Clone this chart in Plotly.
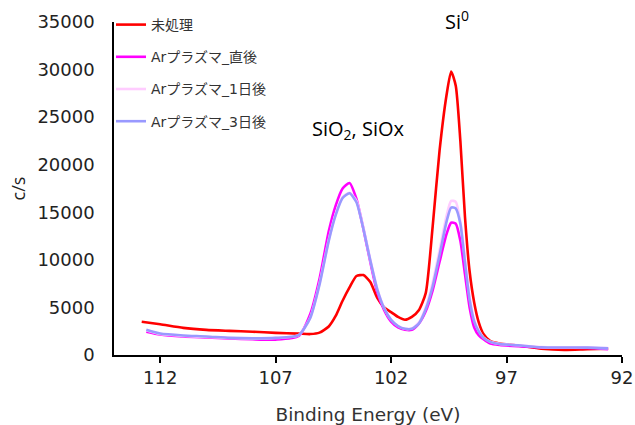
import plotly.graph_objects as go

# Binding energy (eV)
energy_untreated = [112.8, 112.0, 111.0, 110.0, 109.0, 108.0, 107.0, 106.0, 105.5, 105.1, 104.7, 104.4,
                    104.1, 103.8, 103.5, 103.2, 102.9, 102.6, 102.3, 102.0, 101.7, 101.4, 101.1, 100.8,
                    100.5, 100.2, 99.9, 99.6, 99.4, 99.2, 99.0, 98.8, 98.6, 98.4, 98.2, 98.0, 97.7, 97.3,
                    96.5, 95.5, 94.5, 93.5, 92.6]
energy_ar = [112.6] + energy_untreated[1:]

untreated = [3500, 3230, 2850, 2640, 2540, 2450, 2330, 2250, 2200, 2350, 3000, 4100,
             5700, 7100, 8300, 8400, 7670, 6000, 5000, 4500, 4000, 3700, 4000, 4700,
             6500, 13500, 21500, 27300, 29800, 28300, 22500, 14500, 8800, 5500, 3400, 2200, 1450, 1200,
             1000, 650, 520, 600, 650]

ar_0d = [2450, 2150, 1950, 1850, 1750, 1650, 1620, 2000, 4300, 8000, 13000, 15700,
         17500, 18080, 16400, 13260, 9770, 6600, 4700, 3500, 2900, 2650, 2650, 3300,
         4600, 6800, 9800, 12700, 13900, 13800, 12000, 8500, 5000, 2900, 2050, 1650, 1200, 1050,
         920, 800, 760, 740, 620]

ar_1d = [2600, 2200, 2000, 1900, 1780, 1720, 1780, 2080, 3950, 7500, 12100, 14800,
         16600, 17050, 16200, 13400, 10000, 6950, 4950, 3700, 3050, 2750, 2800, 3400,
         5000, 7600, 11000, 14600, 16200, 16100, 14000, 10100, 6100, 3700, 2550, 1850, 1400, 1170,
         1030, 830, 800, 790, 720]

ar_3d = [2650, 2250, 2050, 1950, 1800, 1750, 1800, 2100, 3900, 7400, 12000, 14700,
         16500, 17000, 16050, 13260, 9940, 6900, 4900, 3700, 3050, 2750, 2750, 3300,
         4800, 7200, 10500, 14000, 15500, 15400, 13800, 9700, 5800, 3500, 2450, 1800, 1380, 1150,
         1020, 820, 790, 780, 700]

series_names = ["未処理", "Arプラズマ_直後", "Arプラズマ_1日後", "Arプラズマ_3日後"]
series_colors = ["#FF0000", "#FF00FF", "#FFCCFF", "#9999FF"]
series_x = [energy_untreated, energy_ar, energy_ar, energy_ar]
series_y = [untreated, ar_0d, ar_1d, ar_3d]

x_ticks = [112, 107, 102, 97, 92]

fig = go.Figure()
for i, (name, color, xs, ys) in enumerate(zip(series_names, series_colors, series_x, series_y)):
    fig.add_trace(go.Scatter(
        x=xs, y=ys, name=name, mode="lines",
        line=dict(color=color, width=2.6, shape="spline", smoothing=0.6),
        legendgroup=f"g{i}",
    ))

base_font = "DejaVu Sans, Verdana, Noto Sans CJK JP"

fig.update_layout(
    width=635, height=425,
    margin=dict(l=114, r=13, t=22, b=70, autoexpand=False),
    paper_bgcolor="white", plot_bgcolor="white",
    font=dict(family=base_font, color="#222222"),
    showlegend=True,
    legend=dict(
        xref="container", yref="container",
        x=111 / 635, xanchor="left", y=1 - 9 / 425, yanchor="top",
        bgcolor="rgba(0,0,0,0)",
        font=dict(family=base_font, size=14, color="#333333"),
        tracegroupgap=11,
    ),
    xaxis=dict(
        range=[114, 92],
        tickvals=x_ticks,
        ticktext=[str(v) for v in x_ticks],
        ticks="outside", ticklen=6, tickwidth=1.5, tickcolor="#000000",
        showline=True, linecolor="#000000", linewidth=1.5,
        showgrid=False, zeroline=False, automargin=False,
        tickfont=dict(family=base_font, size=18, color="#222222"),
        ticklabelstandoff=0,
        title=dict(text="Binding Energy (eV)", standoff=32,
                   font=dict(family=base_font, size=18.5, color="#333333")),
    ),
    yaxis=dict(
        range=[0, 35000], dtick=5000, tickformat="d",
        ticks="", showline=True, linecolor="#000000", linewidth=1.5,
        showgrid=False, zeroline=False, automargin=False,
        tickfont=dict(family=base_font, size=18, color="#222222"),
        ticklabelstandoff=14,
    ),
    annotations=[
        dict(text="c/s", x=-0.189, y=0.5, xref="paper", yref="paper", textangle=-90,
             xanchor="center", yanchor="middle",
             showarrow=False, font=dict(family="Open Sans", size=18, color="#222222")),
        dict(text="Si<sup>0</sup>", x=99.14, y=1.006, xref="x", yref="paper",
             xanchor="center", yanchor="middle",
             showarrow=False, font=dict(family="Open Sans", size=20, color="#000000")),
        dict(text="SiO<sub>2</sub>, SiOx", x=103.43, y=0.676, xref="x", yref="paper",
             xanchor="center", yanchor="middle",
             showarrow=False, font=dict(family="Open Sans", size=20, color="#000000")),
    ],
)

fig.write_html("out.html", config={"displayModeBar": False},
               post_script="document.body.style.margin='0';")
